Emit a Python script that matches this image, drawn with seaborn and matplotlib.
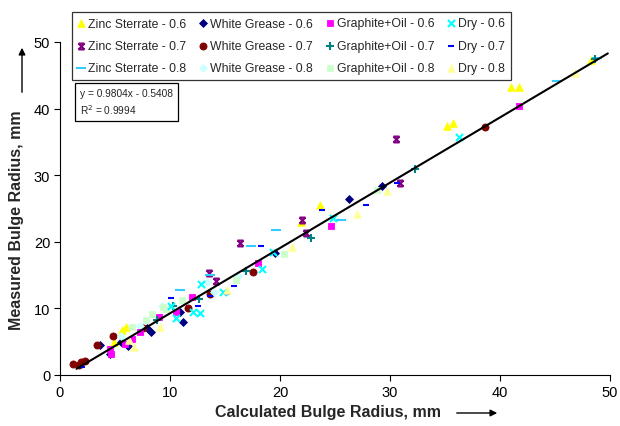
import matplotlib
matplotlib.use("Agg")
import matplotlib.pyplot as plt
from matplotlib.path import Path
import seaborn as sns
import pandas as pd
import numpy as np

# ---------------- data ----------------
zinc06_x = [41.0, 41.7, 35.2, 35.7, 48.3, 23.6, 21.9, 5.6, 6.0, 4.9]
zinc06_y = [43.3, 43.3, 37.4, 37.8, 47.3, 25.5, 23.0, 6.8, 7.2, 5.0]
zinc07_x = [30.5, 30.9, 22.0, 22.4, 16.4, 13.5, 14.2]
zinc07_y = [35.5, 28.8, 23.3, 21.3, 19.8, 15.3, 14.1]
zinc08_x = [45.2, 25.5, 19.6, 17.4, 13.6, 10.9, 48.8]
zinc08_y = [44.1, 23.2, 21.8, 19.3, 15.0, 12.8, 47.6]
wg06_x = [29.3, 26.3, 19.5, 10.9, 11.2, 7.9, 8.3, 5.5, 6.2, 3.6, 4.5]
wg06_y = [28.4, 26.4, 18.3, 9.4, 8.0, 7.0, 6.4, 4.9, 4.3, 4.5, 3.2]
wg07_x = [38.6, 17.5, 13.6, 11.6, 7.5, 4.8, 3.4, 1.2, 1.7, 1.9, 2.3]
wg07_y = [37.3, 15.5, 12.2, 10.1, 7.0, 5.8, 4.5, 1.65, 1.5, 1.9, 2.05]
wg08_x = [13.4, 14.0, 5.5, 4.6, 9.3, 16.2, 7.3]
wg08_y = [13.9, 12.4, 5.8, 3.4, 10.4, 14.8, 7.3]
go06_x = [41.7, 24.6, 18.0, 12.0, 10.5, 9.0, 7.3, 6.5, 5.9, 4.5, 4.6]
go06_y = [40.4, 22.3, 16.8, 11.7, 9.4, 8.7, 6.4, 5.4, 4.6, 3.9, 3.1]
go07_x = [48.6, 32.3, 22.8, 16.9, 12.6, 10.3, 8.8]
go07_y = [47.4, 30.9, 20.6, 15.6, 11.4, 10.3, 8.3]
go08_x = [28.8, 20.4, 16.0, 11.1, 9.4, 9.6, 8.4, 7.8, 6.5]
go08_y = [27.8, 18.2, 14.3, 11.2, 10.2, 9.9, 9.1, 8.3, 7.2]
dry06_x = [36.3, 24.8, 19.4, 18.4, 12.8, 14.8, 12.1, 12.7, 10.1, 10.5]
dry06_y = [35.8, 23.6, 18.5, 15.9, 13.6, 12.5, 9.5, 9.3, 10.3, 8.6]
dry07_x = [30.6, 27.8, 23.8, 18.3, 15.8, 15.2, 13.6, 10.1, 12.5, 2.0]
dry07_y = [28.8, 25.6, 24.8, 19.4, 13.3, 12.1, 11.8, 11.6, 10.4, 1.15]
dry08_x = [46.8, 29.7, 27.0, 21.1, 15.2, 9.1, 6.7, 6.3]
dry08_y = [45.4, 27.7, 24.1, 19.2, 12.8, 7.2, 4.2, 5.2]

series_labels = ["Zinc Sterrate - 0.6", "Zinc Sterrate - 0.7", "Zinc Sterrate - 0.8",
                 "White Grease - 0.6", "White Grease - 0.7", "White Grease - 0.8",
                 "Graphite+Oil - 0.6", "Graphite+Oil - 0.7", "Graphite+Oil - 0.8",
                 "Dry - 0.6", "Dry - 0.7", "Dry - 0.8"]
series_x = [zinc06_x, zinc07_x, zinc08_x, wg06_x, wg07_x, wg08_x,
            go06_x, go07_x, go08_x, dry06_x, dry07_x, dry08_x]
series_y = [zinc06_y, zinc07_y, zinc08_y, wg06_y, wg07_y, wg08_y,
            go06_y, go07_y, go08_y, dry06_y, dry07_y, dry08_y]

trend_slope = 0.9804
trend_intercept = -0.5408
trend_r2 = 0.9994
trend_x_range = [1.5, 49.8]

# ---------------- styling ----------------
hourglass = Path([(-1, -1), (1, 1), (-1, 1), (1, -1), (-1, 1), (1, 1), (-1, -1), (1, -1)],
                 [Path.MOVETO, Path.LINETO, Path.MOVETO, Path.LINETO,
                  Path.MOVETO, Path.LINETO, Path.MOVETO, Path.LINETO])

styles = [
    dict(marker="^", color="#FFFF00", s=30),
    dict(marker=hourglass, color="#800080", s=18),
    dict(marker="_", color="#33CCFF", s=45),
    dict(marker="D", color="#000080", s=16),
    dict(marker="o", color="#800000", s=26),
    dict(marker="D", color="#CCFFFF", s=16),
    dict(marker="s", color="#FF00FF", s=24),
    dict(marker="+", color="#008080", s=30),
    dict(marker="s", color="#CCFFCC", s=24),
    dict(marker="x", color="#00FFFF", s=26),
    dict(marker="_", color="#0000FF", s=20),
    dict(marker="^", color="#FFFF99", s=30),
]

sns.set_theme(style="white")
plt.rcParams["font.family"] = ["Liberation Sans", "DejaVu Sans"]

fig = plt.figure(figsize=(6.2, 4.27), dpi=100)
ax = fig.add_axes([60 / 620, 1 - 376 / 427, 550 / 620, 333 / 427])

for lab, xs, ys, st in zip(series_labels, series_x, series_y, styles):
    df = pd.DataFrame({"x": xs, "y": ys})
    filled = st["marker"] in ("^", "D", "o", "s")
    sns.scatterplot(data=df, x="x", y="y", ax=ax, marker=st["marker"], s=st["s"],
                    color=st["color"], edgecolor=st["color"],
                    linewidth=0.6 if filled else 1.5, label=lab, zorder=3, legend=True)

tx = np.array(trend_x_range)
tdf = pd.DataFrame({"x": tx, "y": trend_slope * tx + trend_intercept})
sns.lineplot(data=tdf, x="x", y="y", ax=ax, color="black", linewidth=1.5, zorder=4)

ax.set_xlim(0, 50)
ax.set_ylim(0, 50)
ax.set_xticks([0, 10, 20, 30, 40, 50])
ax.set_yticks([0, 10, 20, 30, 40, 50])
ax.spines["top"].set_visible(False)
ax.spines["right"].set_visible(False)
for sp in ("left", "bottom"):
    ax.spines[sp].set_color("black")
    ax.spines[sp].set_linewidth(0.8)
ax.tick_params(axis="both", direction="out", length=4, width=0.8, color="black",
               labelsize=10.5, labelcolor="black", left=True, bottom=True, pad=3)
ax.set_xlabel("")
ax.set_ylabel("")

handles, labels = ax.get_legend_handles_labels()
leg = ax.get_legend()
if leg is not None:
    leg.remove()
h12 = [h for h, l in zip(handles, labels) if l in series_labels]
l12 = [l for l in labels if l in series_labels]
fleg = fig.legend(h12, l12, ncol=4, loc="upper left",
                  bbox_to_anchor=(72 / 620, 1 - 13 / 427), frameon=True, fancybox=False,
                  fontsize=8.8, labelspacing=0.85, columnspacing=1.05, handlelength=0.6,
                  handletextpad=0.3, borderpad=0.45, borderaxespad=0)
fleg.get_frame().set_edgecolor("black")
fleg.get_frame().set_linewidth(0.9)

fig.text(80 / 620, 1 - 103 / 427,
         "y = 0.9804x - 0.5408\nR$^2$ = 0.9994", fontsize=7.3, va="center", ha="left",
         linespacing=1.3,
         bbox=dict(boxstyle="square,pad=0.5", facecolor="white", edgecolor="black", linewidth=0.9))

fig.text(328 / 620, 1 - 413 / 427, "Calculated Bulge Radius, mm", fontsize=11.5,
         fontweight="bold", ha="center", va="center")
fig.text(17 / 620, 1 - 220 / 427, "Measured Bulge Radius, mm", fontsize=11.5,
         fontweight="bold", ha="center", va="center", rotation=90)
fig.patches.append(matplotlib.patches.FancyArrowPatch(
    (454 / 620, 1 - 414 / 427), (500 / 620, 1 - 414 / 427), transform=fig.transFigure,
    arrowstyle="-|>,head_length=4,head_width=2", color="black", linewidth=1, mutation_scale=1))
fig.patches.append(matplotlib.patches.FancyArrowPatch(
    (22 / 620, 1 - 96 / 427), (22 / 620, 1 - 46 / 427), transform=fig.transFigure,
    arrowstyle="-|>,head_length=4,head_width=2", color="black", linewidth=1, mutation_scale=1))

fig.savefig("out.png", dpi=100)
